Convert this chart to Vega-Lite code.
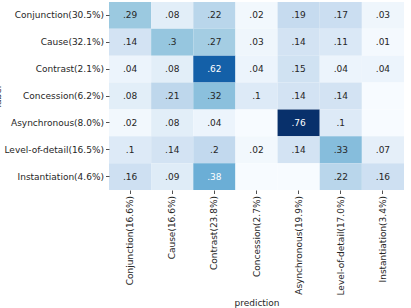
{
  "$schema": "https://vega.github.io/schema/vega-lite/v6.json",
  "width": 295,
  "height": 188,
  "autosize": {"type": "none"},
  "padding": {"left": 109, "top": 2, "right": 7, "bottom": 118},
  "config": {
    "font": "DejaVu Sans",
    "view": {"stroke": null},
    "axis": {"domain": false, "grid": false, "tickColor": "#262626", "tickSize": 3.5, "tickWidth": 0.8, "labelColor": "#262626", "labelFont": "DejaVu Sans", "labelFontSize": 9, "labelPadding": 2, "titleFont": "DejaVu Sans", "titleFontSize": 9, "titleFontWeight": "normal", "titleColor": "#262626"}
  },
  "data": {
    "values": [
      {"label": "Conjunction(30.5%)", "prediction": "Conjunction(16.6%)", "v": 0.29},
      {"label": "Conjunction(30.5%)", "prediction": "Cause(16.6%)", "v": 0.08},
      {"label": "Conjunction(30.5%)", "prediction": "Contrast(23.8%)", "v": 0.22},
      {"label": "Conjunction(30.5%)", "prediction": "Concession(2.7%)", "v": 0.02},
      {"label": "Conjunction(30.5%)", "prediction": "Asynchronous(19.9%)", "v": 0.19},
      {"label": "Conjunction(30.5%)", "prediction": "Level-of-detail(17.0%)", "v": 0.17},
      {"label": "Conjunction(30.5%)", "prediction": "Instantiation(3.4%)", "v": 0.03},
      {"label": "Cause(32.1%)", "prediction": "Conjunction(16.6%)", "v": 0.14},
      {"label": "Cause(32.1%)", "prediction": "Cause(16.6%)", "v": 0.3},
      {"label": "Cause(32.1%)", "prediction": "Contrast(23.8%)", "v": 0.27},
      {"label": "Cause(32.1%)", "prediction": "Concession(2.7%)", "v": 0.03},
      {"label": "Cause(32.1%)", "prediction": "Asynchronous(19.9%)", "v": 0.14},
      {"label": "Cause(32.1%)", "prediction": "Level-of-detail(17.0%)", "v": 0.11},
      {"label": "Cause(32.1%)", "prediction": "Instantiation(3.4%)", "v": 0.01},
      {"label": "Contrast(2.1%)", "prediction": "Conjunction(16.6%)", "v": 0.04},
      {"label": "Contrast(2.1%)", "prediction": "Cause(16.6%)", "v": 0.08},
      {"label": "Contrast(2.1%)", "prediction": "Contrast(23.8%)", "v": 0.62},
      {"label": "Contrast(2.1%)", "prediction": "Concession(2.7%)", "v": 0.04},
      {"label": "Contrast(2.1%)", "prediction": "Asynchronous(19.9%)", "v": 0.15},
      {"label": "Contrast(2.1%)", "prediction": "Level-of-detail(17.0%)", "v": 0.04},
      {"label": "Contrast(2.1%)", "prediction": "Instantiation(3.4%)", "v": 0.04},
      {"label": "Concession(6.2%)", "prediction": "Conjunction(16.6%)", "v": 0.08},
      {"label": "Concession(6.2%)", "prediction": "Cause(16.6%)", "v": 0.21},
      {"label": "Concession(6.2%)", "prediction": "Contrast(23.8%)", "v": 0.32},
      {"label": "Concession(6.2%)", "prediction": "Concession(2.7%)", "v": 0.1},
      {"label": "Concession(6.2%)", "prediction": "Asynchronous(19.9%)", "v": 0.14},
      {"label": "Concession(6.2%)", "prediction": "Level-of-detail(17.0%)", "v": 0.14},
      {"label": "Concession(6.2%)", "prediction": "Instantiation(3.4%)", "v": 0},
      {"label": "Asynchronous(8.0%)", "prediction": "Conjunction(16.6%)", "v": 0.02},
      {"label": "Asynchronous(8.0%)", "prediction": "Cause(16.6%)", "v": 0.08},
      {"label": "Asynchronous(8.0%)", "prediction": "Contrast(23.8%)", "v": 0.04},
      {"label": "Asynchronous(8.0%)", "prediction": "Concession(2.7%)", "v": 0},
      {"label": "Asynchronous(8.0%)", "prediction": "Asynchronous(19.9%)", "v": 0.76},
      {"label": "Asynchronous(8.0%)", "prediction": "Level-of-detail(17.0%)", "v": 0.1},
      {"label": "Asynchronous(8.0%)", "prediction": "Instantiation(3.4%)", "v": 0},
      {"label": "Level-of-detail(16.5%)", "prediction": "Conjunction(16.6%)", "v": 0.1},
      {"label": "Level-of-detail(16.5%)", "prediction": "Cause(16.6%)", "v": 0.14},
      {"label": "Level-of-detail(16.5%)", "prediction": "Contrast(23.8%)", "v": 0.2},
      {"label": "Level-of-detail(16.5%)", "prediction": "Concession(2.7%)", "v": 0.02},
      {"label": "Level-of-detail(16.5%)", "prediction": "Asynchronous(19.9%)", "v": 0.14},
      {"label": "Level-of-detail(16.5%)", "prediction": "Level-of-detail(17.0%)", "v": 0.33},
      {"label": "Level-of-detail(16.5%)", "prediction": "Instantiation(3.4%)", "v": 0.07},
      {"label": "Instantiation(4.6%)", "prediction": "Conjunction(16.6%)", "v": 0.16},
      {"label": "Instantiation(4.6%)", "prediction": "Cause(16.6%)", "v": 0.09},
      {"label": "Instantiation(4.6%)", "prediction": "Contrast(23.8%)", "v": 0.38},
      {"label": "Instantiation(4.6%)", "prediction": "Concession(2.7%)", "v": 0},
      {"label": "Instantiation(4.6%)", "prediction": "Asynchronous(19.9%)", "v": 0},
      {"label": "Instantiation(4.6%)", "prediction": "Level-of-detail(17.0%)", "v": 0.22},
      {"label": "Instantiation(4.6%)", "prediction": "Instantiation(3.4%)", "v": 0.16}
    ]
  },
  "encoding": {
    "x": {"field": "prediction", "type": "nominal", "sort": null, "scale": {"paddingInner": 0, "paddingOuter": 0},
      "axis": {"labelAngle": -90, "title": "prediction", "titlePadding": 3}},
    "y": {"field": "label", "type": "nominal", "sort": null, "scale": {"paddingInner": 0, "paddingOuter": 0},
      "axis": {"title": "label", "titleX": -107, "titleBaseline": "bottom"}}
  },
  "layer": [
    {
      "mark": {"type": "rect"},
      "encoding": {
        "color": {"field": "v", "type": "quantitative", "legend": null,
          "scale": {"domain": [0, 0.095, 0.19, 0.285, 0.38, 0.475, 0.57, 0.665, 0.76],
            "range": ["#f7fbff", "#deebf7", "#c6dbef", "#9ecae1", "#6baed6", "#4292c6", "#2171b5", "#08519c", "#08306b"],
            "interpolate": "rgb"}}
      }
    },
    {
      "transform": [
        {"filter": "datum.v > 0"},
        {"calculate": "replace(toString(datum.v), '0.', '.')", "as": "txt"}
      ],
      "mark": {"type": "text", "fontSize": 9, "font": "DejaVu Sans"},
      "encoding": {
        "text": {"field": "txt", "type": "nominal"},
        "color": {"condition": {"test": "datum.v > 0.35", "value": "#ffffff"}, "value": "#262626"}
      }
    }
  ]
}
